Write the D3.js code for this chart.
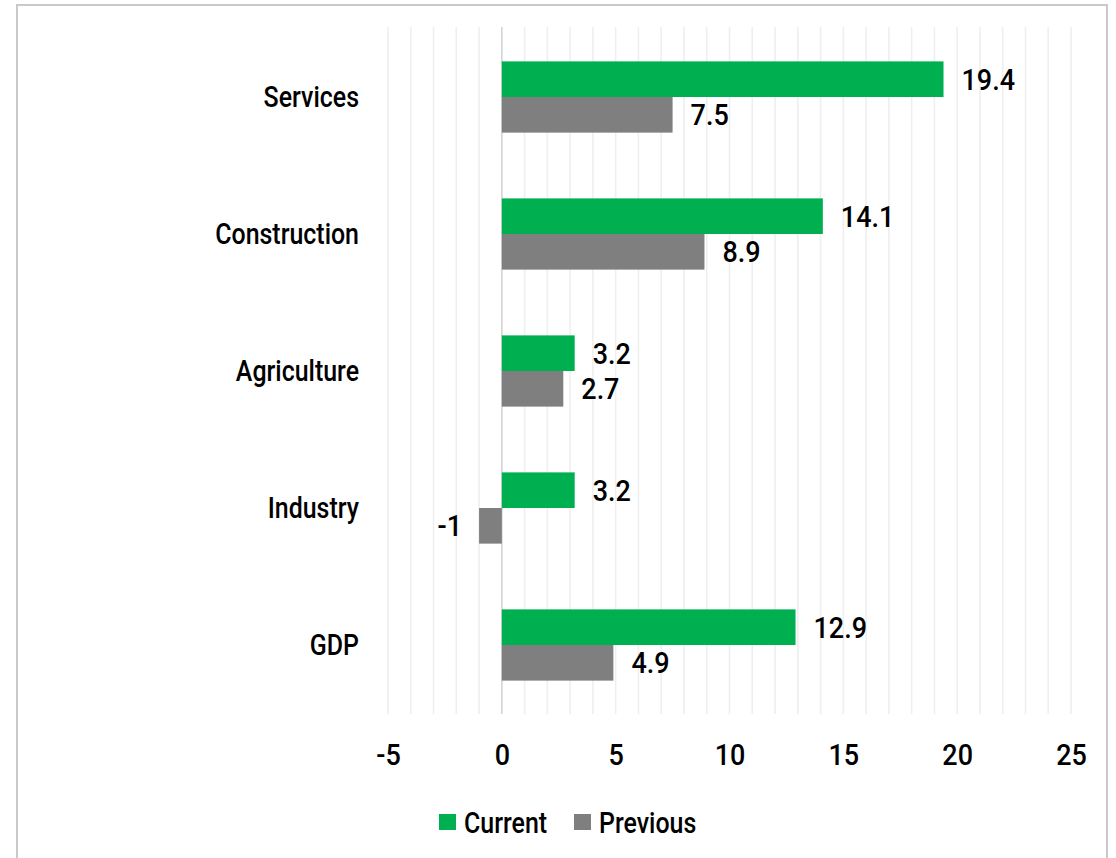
<!DOCTYPE html>
<html>
<head>
<meta charset="utf-8">
<script src="https://cdn.jsdelivr.net/npm/d3@7"></script>
<style>
	html, body { margin: 0; padding: 0; background: #fff; }
	text { font-family: Roboto, "Liberation Sans", sans-serif; font-weight: 500; font-size: 29px; fill: #000; }
</style>
</head>
<body>
<svg id="chart" width="1116" height="858"></svg>
<script>
// categories, top to bottom as drawn
var categories = ["Services", "Construction", "Agriculture", "Industry", "GDP"];
var seriesNames = ["Current", "Previous"];
var currentValues = [19.4, 14.1, 3.2, 3.2, 12.9];
var previousValues = [7.5, 8.9, 2.7, -1, 4.9];
var xTicks = [-5, 0, 5, 10, 15, 20, 25];

var colors = {Current: "#00b050", Previous: "#7f7f7f"};

//the original font is a narrow one, squeeze the installed font to fit
var wordSqueeze = "scale(0.86,1)";
var numSqueeze = "scale(0.93,1)";

//rows for the bars, one per category and series
var rows = [];
categories.forEach(function(c, i){
	rows.push({cat: c, series: "Current", value: currentValues[i]});
	rows.push({cat: c, series: "Previous", value: previousValues[i]});
});

var svg = d3.select("#chart");

//outer frame
svg.append("rect")
.attr("x", 17)
.attr("y", 5)
.attr("width", 1090)
.attr("height", 880)
.attr("fill", "none")
.attr("stroke", "#c9c9c9")
.attr("stroke-width", 2);

var x = d3.scaleLinear()
.domain([-5, 25])
.range([388, 1071]);

var y = d3.scaleBand()
.domain(categories)
.range([28.5, 713.5])
.paddingInner(0.48)
.paddingOuter(0.24);

var ySub = d3.scaleBand()
.domain(seriesNames)
.range([0, y.bandwidth()]);

//minor gridlines, one per unit
svg.append("g")
.selectAll("line")
.data(d3.range(-5, 26))
.enter()
.append("line")
.attr("x1", function(d){ return x(d); })
.attr("x2", function(d){ return x(d); })
.attr("y1", 27)
.attr("y2", 714)
.attr("stroke", function(d){ return d === 0 ? "#d4d4d4" : "#efefef"; })
.attr("stroke-width", 1.6);

//bars
svg.append("g")
.selectAll("rect")
.data(rows)
.enter()
.append("rect")
.attr("x", function(d){ return x(Math.min(0, d.value)); })
.attr("y", function(d){ return y(d.cat) + ySub(d.series); })
.attr("width", function(d){ return Math.abs(x(d.value) - x(0)); })
.attr("height", ySub.bandwidth())
.attr("fill", function(d){ return colors[d.series]; });

//value labels
svg.append("g")
.selectAll("g")
.data(rows)
.enter()
.append("g")
.attr("transform", function(d){
	var lx = d.value < 0 ? x(d.value) - 17 : x(d.value) + 18;
	var ly = y(d.cat) + ySub(d.series) + ySub.bandwidth() / 2;
	return "translate(" + lx + "," + ly + ")";
})
.append("text")
.attr("transform", numSqueeze)
.attr("dy", "0.36em")
.attr("text-anchor", function(d){ return d.value < 0 ? "end" : "start"; })
.text(function(d){ return d.value; });

//category labels
var yAxis = d3.axisLeft(y).tickSize(0).tickPadding(0);
svg.append("g")
.attr("transform", "translate(359, 0)")
.call(yAxis)
.call(function(g){ g.select(".domain").remove(); })
.selectAll("text")
.attr("font-size", null)
.attr("font-family", null)
.attr("transform", wordSqueeze)
.attr("dy", "0.36em");

//x axis labels, plain hyphen for the negative tick
var xAxis = d3.axisBottom(x).tickValues(xTicks).tickSize(0).tickPadding(0)
.tickFormat(function(d){ return String(d); });
svg.append("g")
.attr("transform", "translate(0, 755)")
.call(xAxis)
.call(function(g){ g.select(".domain").remove(); })
.selectAll("text")
.attr("font-size", null)
.attr("font-family", null)
.attr("transform", numSqueeze)
.attr("dy", "0.36em");

//legend
var legendX = [439, 574];
var legend = svg.append("g")
.selectAll("g")
.data(seriesNames)
.enter()
.append("g")
.attr("transform", function(d, i){ return "translate(" + legendX[i] + ", 814)"; });

legend.append("rect")
.attr("width", 17)
.attr("height", 16)
.attr("fill", function(d){ return colors[d]; });

legend.append("g")
.attr("transform", "translate(25, 8.5)")
.append("text")
.attr("transform", wordSqueeze)
.attr("dy", "0.36em")
.text(function(d){ return d; });
</script>
</body>
</html>
